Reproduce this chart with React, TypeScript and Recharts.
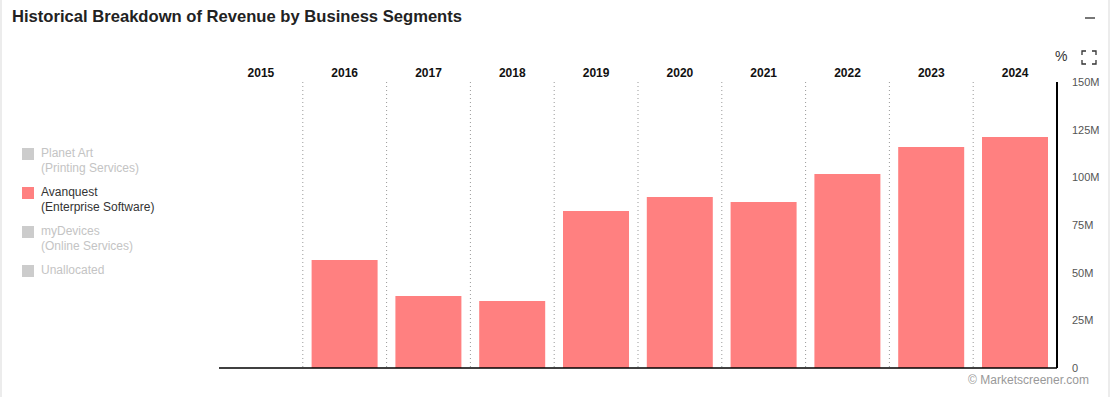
import React from "react";
import { BarChart, Bar, XAxis, YAxis, CartesianGrid, ReferenceLine } from "recharts";

const years = ["2015", "2016", "2017", "2018", "2019", "2020", "2021", "2022", "2023", "2024"];
const avanquest = [null, 56.6, 37.8, 35.1, 82.3, 89.7, 87.1, 101.7, 115.9, 121.1];
const yTicks = [0, 25, 50, 75, 100, 125, 150];
const legendItems = [
  { name: "Planet Art", sub: "(Printing Services)", active: false },
  { name: "Avanquest", sub: "(Enterprise Software)", active: true },
  { name: "myDevices", sub: "(Online Services)", active: false },
  { name: "Unallocated", sub: "", active: false },
];

const data = years.map((y, i) => ({ year: y, avanquest: avanquest[i] }));

const FONT = "'Liberation Sans', Arial, Helvetica, sans-serif";
const BAR_COLOR = "#ff8080";

const fmt = (v: number) => (v === 0 ? "0" : `${v}M`);

export default function App() {
  return (
    <div
      style={{
        position: "absolute",
        left: 0,
        top: 0,
        width: 1111,
        height: 397,
        background: "#fff",
        fontFamily: FONT,
        overflow: "hidden",
      }}
    >
      <div style={{ position: "absolute", left: 0, top: 0, width: 2, height: 397, background: "#ececec" }} />
      <div style={{ position: "absolute", left: 1108, top: 0, width: 2, height: 397, background: "#ececec" }} />
      <div
        style={{
          position: "absolute",
          left: 12,
          top: 7,
          fontSize: 16.6,
          fontWeight: "bold",
          color: "#222",
          whiteSpace: "nowrap",
        }}
      >
        Historical Breakdown of Revenue by Business Segments
      </div>
      <div style={{ position: "absolute", left: 1085, top: 17, width: 10, height: 2, background: "#777" }} />
      <div style={{ position: "absolute", left: 1055, top: 48, fontSize: 14, color: "#333" }}>%</div>
      <svg style={{ position: "absolute", left: 1081, top: 50 }} width={16} height={15}>
        <path
          d="M1 5 V1 H5 M11 1 H15 V5 M15 10 V14 H11 M5 14 H1 V10"
          fill="none"
          stroke="#333"
          strokeWidth={1.3}
        />
      </svg>

      <div style={{ position: "absolute", left: 22, top: 146 }}>
        {legendItems.map((it) => (
          <div key={it.name} style={{ display: "flex", alignItems: "flex-start", marginBottom: 9 }}>
            <div
              style={{
                width: 12,
                height: 12,
                marginTop: 2,
                background: it.active ? BAR_COLOR : "#cccccc",
              }}
            />
            <div
              style={{
                marginLeft: 7,
                fontSize: 12,
                lineHeight: "15px",
                color: it.active ? "#333" : "#c4c4c4",
              }}
            >
              <div>{it.name}</div>
              {it.sub ? <div>{it.sub}</div> : null}
            </div>
          </div>
        ))}
      </div>

      <div style={{ position: "absolute", left: 0, top: 0 }}>
        <BarChart
          width={1111}
          height={397}
          data={data}
          margin={{ top: 60, right: 0, bottom: 29, left: 219 }}
          barCategoryGap="10.5%"
        >
          <CartesianGrid
            horizontal={false}
            stroke="#999"
            strokeDasharray="1 3"
            verticalCoordinatesGenerator={(props: any) => {
              const off = props.offset;
              const out: number[] = [];
              for (let i = 1; i < years.length; i++) out.push(off.left + (off.width * i) / years.length);
              return out;
            }}
          />
          <XAxis
            dataKey="year"
            orientation="top"
            height={22}
            axisLine={false}
            tickLine={false}
            tickSize={0}
            tickMargin={5}
            interval={0}
            tick={{ fill: "#111", fontSize: 12, fontWeight: "bold", fontFamily: FONT }}
          />
          <YAxis
            orientation="right"
            width={54}
            domain={[0, 150]}
            ticks={yTicks}
            tickFormatter={fmt}
            axisLine={{ stroke: "#000", strokeWidth: 2 }}
            tickLine={false}
            tickSize={6}
            tickMargin={9}
            tick={{ fill: "#555", fontSize: 11, fontFamily: FONT, textAnchor: "start" }}
          />
          <ReferenceLine y={0} stroke="#000" strokeWidth={1.5} ifOverflow="extendDomain" />
          <Bar dataKey="avanquest" fill={BAR_COLOR} isAnimationActive={false} />
        </BarChart>
      </div>

      <div
        style={{
          position: "absolute",
          right: 22,
          top: 373,
          fontSize: 12,
          color: "#999",
        }}
      >
        © Marketscreener.com
      </div>
    </div>
  );
}
